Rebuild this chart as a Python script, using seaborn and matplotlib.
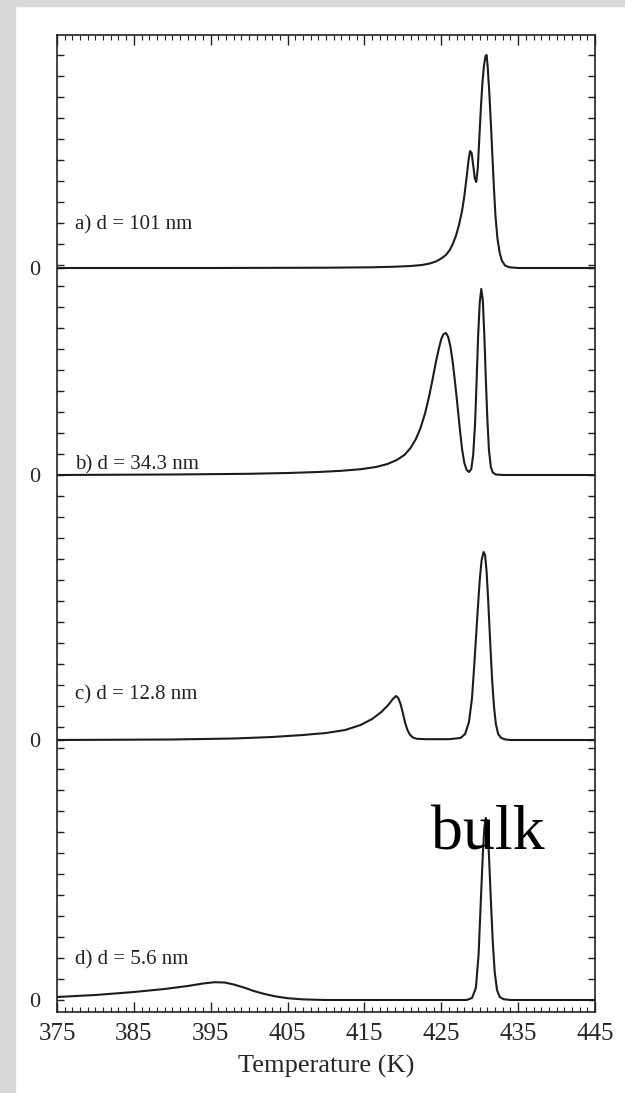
import matplotlib
matplotlib.use("Agg")
import pandas as pd
import matplotlib.pyplot as plt
import seaborn as sns
from matplotlib.patches import Rectangle
from matplotlib.ticker import MultipleLocator, FixedLocator

# Curves: temperature (K) and signal (arbitrary units)
temp_a = [375, 395, 410, 416, 419, 421, 422.5, 423.5, 424.3, 425.0, 425.6, 426.1,
          426.5, 426.9, 427.3, 427.7, 428.0, 428.3, 428.55, 428.75, 428.95, 429.15,
          429.35, 429.55, 429.75, 429.95, 430.15, 430.35, 430.55, 430.75, 430.9,
          431.05, 431.25, 431.45, 431.65, 431.85, 432.05, 432.3, 432.6, 432.9,
          433.3, 433.8, 435, 445]
sig_a = [0, 0, 0.3, 0.7, 1.3, 2, 3, 4.5, 6.5, 9.5, 13, 18,
         24, 32, 43, 57, 72, 91, 108, 117, 115, 103,
         90, 86, 100, 130, 160, 185, 202, 212, 213,
         200, 175, 145, 112, 80, 52, 30, 15, 7,
         2.5, 0.8, 0, 0]

temp_b = [375, 390, 400, 405, 409, 412, 414.5, 416.5, 418, 419.2, 420.2, 421.0,
          421.7, 422.3, 422.9, 423.4, 423.9, 424.3, 424.7, 425.0, 425.3, 425.6,
          425.9, 426.2, 426.5, 426.8, 427.1, 427.4, 427.7, 428.0, 428.3, 428.6,
          428.9, 429.15, 429.4, 429.6, 429.8, 430.0, 430.2, 430.4, 430.6, 430.8,
          431.0, 431.2, 431.45, 431.7, 432.1, 433, 445]
sig_b = [0, 0.5, 1.2, 2, 3, 4.2, 5.8, 8, 11, 15, 20, 27,
         36, 47, 62, 78, 97, 113, 127, 136, 141, 142,
         138, 128, 112, 92, 70, 47, 26, 12, 5, 3,
         6, 20, 52, 95, 140, 172, 186, 175, 140, 95,
         55, 25, 8, 2.5, 0.5, 0, 0]

temp_c = [375, 390, 398, 403, 407, 410, 412.5, 414.5, 416, 417.2, 418.1, 418.7,
          419.1, 419.4, 419.7, 420.0, 420.3, 420.6, 420.9, 421.3, 421.8, 423,
          426, 427.5, 428.1, 428.6, 429.0, 429.35, 429.7, 430.0, 430.25, 430.5,
          430.7, 430.9, 431.1, 431.35, 431.6, 431.85, 432.1, 432.4, 432.8, 433.3,
          434, 445]
sig_c = [0, 0.5, 1.5, 3, 5, 7, 10, 15, 21, 28, 35, 41,
         44, 42, 36, 27, 17, 10, 5.5, 2.5, 1.2, 0.8,
         0.8, 2, 6, 18, 42, 82, 125, 160, 180, 188,
         185, 168, 140, 100, 62, 34, 16, 6, 2, 0.6,
         0, 0]

temp_d = [375, 380, 385, 389, 392, 394, 395.5, 396.8, 398, 399.3, 400.6, 402,
          403.5, 405, 407, 410, 428.3, 429.0, 429.5, 429.85, 430.15, 430.4, 430.6,
          430.8, 431.0, 431.2, 431.45, 431.7, 431.95, 432.25, 432.6, 433.1, 434, 445]
sig_d = [3, 5, 8, 11, 14, 16.5, 17.8, 17.5, 15.5, 12.5, 9, 6,
         3.5, 1.8, 0.6, 0, 0, 2, 12, 45, 100, 145, 172,
         182, 172, 145, 100, 58, 28, 10, 3, 0.8, 0, 0]

panel_labels = ["a) d = 101 nm", "b) d = 34.3 nm", "c) d = 12.8 nm", "d) d = 5.6 nm"]
offsets = [732, 525, 260, 0]
label_y = [775, 535, 305, 40]
temp_ticks = [375, 385, 395, 405, 415, 425, 435, 445]

sns.set_theme(style="ticks")
plt.rcParams["font.family"] = ["Liberation Serif", "DejaVu Serif"]

fig = plt.figure(figsize=(6.25, 10.93), dpi=100, facecolor="white")
# paper-like grey border strips on the scan
fig.patches.append(Rectangle((0, 0), 15 / 625, 1, transform=fig.transFigure,
                             color="#d8d8d8", zorder=-1))
fig.patches.append(Rectangle((0, 1 - 6 / 1093), 1, 6 / 1093, transform=fig.transFigure,
                             color="#d8d8d8", zorder=-1))

ax = fig.add_axes([57 / 625, 1 - 1012 / 1093, (595 - 57) / 625, (1012 - 35) / 1093])
ax.set_facecolor("white")

curves = [(temp_a, sig_a), (temp_b, sig_b), (temp_c, sig_c), (temp_d, sig_d)]
for (t, s), off, lab, ly in zip(curves, offsets, panel_labels, label_y):
    df = pd.DataFrame({"T": t, "y": [v + off for v in s]})
    sns.lineplot(data=df, x="T", y="y", ax=ax, color="#1c1c1c", linewidth=1.5,
                 estimator=None, sort=False)
    ax.text(377.3, ly, lab, fontsize=15, ha="left", va="center", color="#222222")

ax.text(431, 166, "bulk", fontsize=46, ha="center", va="center", color="black")

ax.set_xlim(375, 445)
ax.set_ylim(-12, 965)
ax.xaxis.set_major_locator(FixedLocator(temp_ticks))
ax.xaxis.set_minor_locator(MultipleLocator(1))
ax.set_yticks(offsets, labels=["0"] * len(offsets))
ax.yaxis.set_minor_locator(MultipleLocator(21))

ax.tick_params(which="both", direction="in", top=True, right=True, color="#222222")
ax.tick_params(axis="x", which="major", length=7, width=1, labelsize=18, pad=8)
ax.tick_params(axis="x", which="minor", length=3.5, width=0.8)
ax.tick_params(axis="y", which="both", length=5, width=1, labelsize=16, pad=12)

for sp in ax.spines.values():
    sp.set_color("#222222")
    sp.set_linewidth(1.2)

ax.set_xlabel("Temperature (K)", fontsize=19, labelpad=7)
ax.set_ylabel("")

fig.savefig("out.png", dpi=100, facecolor=fig.get_facecolor())
